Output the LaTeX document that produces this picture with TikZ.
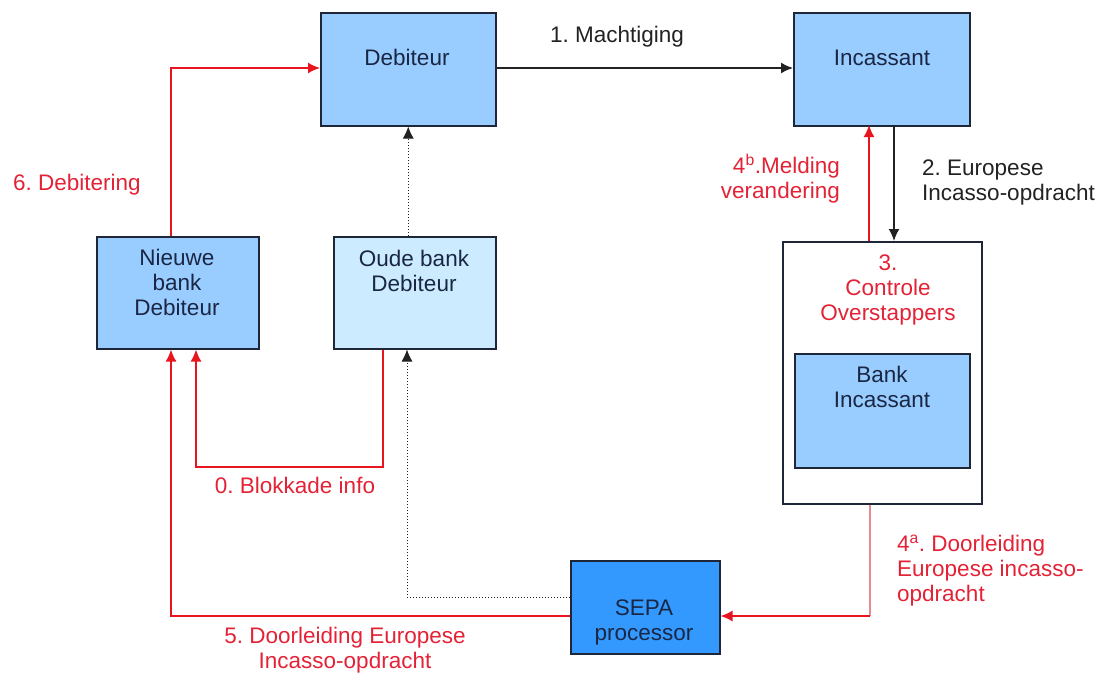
\documentclass[tikz,border=0pt]{standalone}
\usepackage{fontspec}
\setmainfont{Liberation Sans}
\usetikzlibrary{arrows.meta}
\definecolor{paleblue}{HTML}{99CCFF}
\definecolor{lightpale}{HTML}{CCEBFF}
\definecolor{sepablue}{HTML}{3399FF}
\definecolor{edge}{HTML}{1E2638}
\definecolor{boxink}{HTML}{1A2744}
\definecolor{flowred}{HTML}{E8141E}
\definecolor{labelred}{HTML}{E32236}
\definecolor{thinred}{HTML}{E88A94}
\definecolor{ink}{HTML}{222222}
\frenchspacing
\begin{document}
\begin{tikzpicture}[x=1pt,y=-1pt,
  unit/.style={draw=edge, line width=1.5pt, rectangle, inner sep=0pt, anchor=north west},
  % multi-line texts are placed by the baseline of their last line
  boxtext/.style={text=boxink, align=center, anchor=base, inner sep=0pt,
    font=\fontsize{22.5}{25}\selectfont},
  redlabel/.style={text=labelred, inner sep=0pt, anchor=base,
    font=\fontsize{22.5}{25}\selectfont},
  blacklabel/.style={text=ink, inner sep=0pt, anchor=base,
    font=\fontsize{22.5}{25}\selectfont},
  tip/.style={-{Latex[length=12pt,width=11pt]}},
  blackflow/.style={tip, draw=ink, line width=1.6pt},
  redflow/.style={tip, draw=flowred, line width=1.6pt},
  dotflow/.style={tip, draw=ink, line width=1pt, dotted},
]
\useasboundingbox (0,0) rectangle (1118,680);

% boxes
\node[unit, fill=paleblue, minimum width=175pt, minimum height=113pt] (deb) at (320,12) {};
\node[unit, fill=paleblue, minimum width=176pt, minimum height=113pt] (inc) at (793,12) {};
\node[unit, fill=paleblue, minimum width=162pt, minimum height=112pt] (nieuw) at (96,236) {};
\node[unit, fill=lightpale, minimum width=162pt, minimum height=112pt] (oud) at (333,236) {};
\node[unit, fill=white, minimum width=199pt, minimum height=262pt] (ctrl) at (782,241) {};
\node[unit, fill=paleblue, minimum width=175pt, minimum height=114pt] (bankinc) at (794,353) {};
\node[unit, fill=sepablue, minimum width=149pt, minimum height=93pt] (sepa) at (570,560) {};

% box texts
\node[boxtext] at (407,65) {Debiteur};
\node[boxtext] at (882,65) {Incassant};
\node[boxtext] at (177,315) {Nieuwe\\bank\\Debiteur};
\node[boxtext] at (414,291) {Oude bank\\Debiteur};
\node[boxtext] at (882,407) {Bank\\Incassant};
\node[boxtext] at (644,640) {SEPA\\processor};
\node[boxtext, text=labelred] at (888,320) {3.\\Controle\\Overstappers};

% junction points
\coordinate (debup) at (171,68);
\coordinate (blkA) at (383,467);
\coordinate (blkB) at (196,467);
\coordinate (fwdA) at (171,616);
\coordinate (dotA) at (407,597);
\coordinate (aA) at (870,616);

% connectors
\draw[blackflow] (deb.east |- 0,68) -- (inc.west |- 0,68);
\draw[blackflow] (894,125) -- (894,241);
\draw[redflow] (869,241) -- (869,125);
\draw[redflow] (nieuw.north -| debup) -- (debup) -- (deb.west |- debup);
\draw[dotflow] (deb.south |- oud.north) -- (deb.south);
\draw[redflow] (oud.south -| blkA) -- (blkA) -- (blkB) -- (nieuw.south -| blkB);
\draw[redflow] (sepa.west |- fwdA) -- (fwdA) -- (nieuw.south -| fwdA);
\draw[dotflow] (sepa.west |- dotA) -- (dotA) -- (oud.south -| dotA);
\draw[thinred, line width=1.1pt] (ctrl.south -| aA) -- (aA);
\draw[redflow] (aA) -- (sepa.east |- aA);

% connector labels
\node[blacklabel, anchor=base west] at (550,42) {1. Machtiging};
\node[blacklabel, anchor=base west, align=left] at (922,200) {2. Europese\\Incasso-opdracht};
\node[redlabel, anchor=base east, align=right] at (840,198) {4\textsuperscript{b}.Melding\\verandering};
\node[redlabel, anchor=base west] at (13,190) {6. Debitering};
\node[redlabel] at (295,493) {0. Blokkade info};
\node[redlabel, anchor=base west, align=left] at (897,601) {4\textsuperscript{a}. Doorleiding\\Europese incasso-\\opdracht};
\node[redlabel, align=center] at (345,668) {5. Doorleiding Europese\\Incasso-opdracht};
\end{tikzpicture}
\end{document}
